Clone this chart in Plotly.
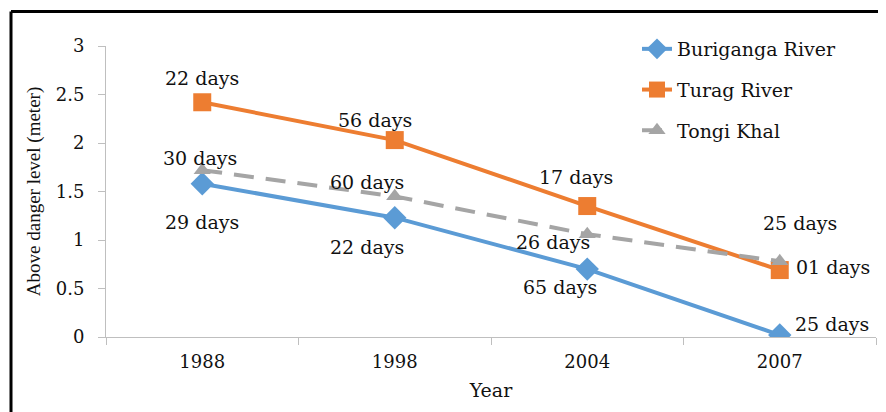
import plotly.graph_objects as go

years = ["1988", "1998", "2004", "2007"]
buriganga = [1.58, 1.23, 0.70, 0.02]
turag = [2.42, 2.03, 1.35, 0.69]
tongi = [1.72, 1.45, 1.06, 0.78]

buriganga_days = ["29 days", "22 days", "65 days", "25 days"]
turag_days = ["22 days", "56 days", "17 days", "01 days"]
tongi_days = ["30 days", "60 days", "26 days", "25 days"]

# label offsets in pixels (dx, dy) relative to the data point
buriganga_off = [(0, -38), (-28, -29), (-27, -18), (52, 11)]
turag_off = [(0, 24), (-20, 20), (-11, 29), (53, 3)]
tongi_off = [(-2, 12), (-28, 14), (-34, -8), (20, 38)]

W, H = 886, 412
ML, MR, MT, MB = 98, 18, 38, 83
PW, PH = W - ML - MR, H - MT - MB

SERIF = "DejaVu Serif, serif"
TNR = "Liberation Serif, Times New Roman, serif"
BLUE, ORANGE, GRAY = "#5B9BD5", "#ED7D31", "#A5A5A5"

fig = go.Figure()
fig.add_trace(go.Scatter(x=years, y=buriganga, name="Buriganga River", mode="lines+markers",
                         line=dict(color=BLUE, width=4),
                         marker=dict(symbol="diamond", size=18, color=BLUE),
                         legendgroup="a"))
fig.add_trace(go.Scatter(x=years, y=turag, name="Turag River", mode="lines+markers",
                         line=dict(color=ORANGE, width=4),
                         marker=dict(symbol="square", size=18, color=ORANGE),
                         legendgroup="b"))
fig.add_trace(go.Scatter(x=years, y=tongi, name="Tongi Khal", mode="lines+markers",
                         line=dict(color=GRAY, width=4, dash="20px,12px"),
                         marker=dict(symbol="triangle-up", size=15, color=GRAY),
                         legendgroup="c"))

for vals, labs, offs in [(buriganga, buriganga_days, buriganga_off),
                         (turag, turag_days, turag_off),
                         (tongi, tongi_days, tongi_off)]:
    for i, (yv, t, (dx, dy)) in enumerate(zip(vals, labs, offs)):
        fig.add_annotation(x=i, y=yv, xref="x", yref="y", text=t, showarrow=False,
                           xshift=dx, yshift=dy,
                           font=dict(family=SERIF, size=19, color="#111111"))

# frame lines (top and left)
lx = (3 - ML) / PW
ty = 1 + (MT - 3.5) / PH
fig.add_shape(type="line", xref="paper", yref="paper", x0=lx, x1=(W - ML) / PW,
              y0=ty, y1=ty, line=dict(color="black", width=3))
fig.add_shape(type="line", xref="paper", yref="paper", x0=lx, x1=lx,
              y0=ty, y1=-MB / PH - 0.02, line=dict(color="black", width=3))

fig.update_layout(
    width=W, height=H,
    margin=dict(l=ML, r=MR, t=MT, b=MB),
    paper_bgcolor="white", plot_bgcolor="white",
    font=dict(family=SERIF, size=18, color="#111111"),
    legend=dict(x=(629 - ML) / PW, y=1 + (MT - 22) / PH, xanchor="left", yanchor="top",
                font=dict(family=SERIF, size=19), tracegroupgap=13,
                bgcolor="rgba(0,0,0,0)"),
    xaxis=dict(type="category", range=[-0.5, len(years) - 0.5],
               showline=True, linecolor="#BFBFBF", linewidth=1,
               ticks="outside", tickson="boundaries", ticklen=7, tickcolor="#BFBFBF",
               ticklabelstandoff=8,
               showgrid=False, tickfont=dict(family=SERIF, size=18),
               title=dict(text="Year", font=dict(family=SERIF, size=19), standoff=13)),
    yaxis=dict(range=[0, 3], dtick=0.5, showline=True, linecolor="#BFBFBF", linewidth=1,
               ticks="outside", ticklen=7, tickcolor="#BFBFBF", showgrid=False,
               ticklabelstandoff=10,
               zeroline=False, tickfont=dict(family=SERIF, size=18),
               title=dict(text="Above danger level (meter)", font=dict(family=TNR, size=19),
                          standoff=10)),
)

fig.write_html("out.html")
